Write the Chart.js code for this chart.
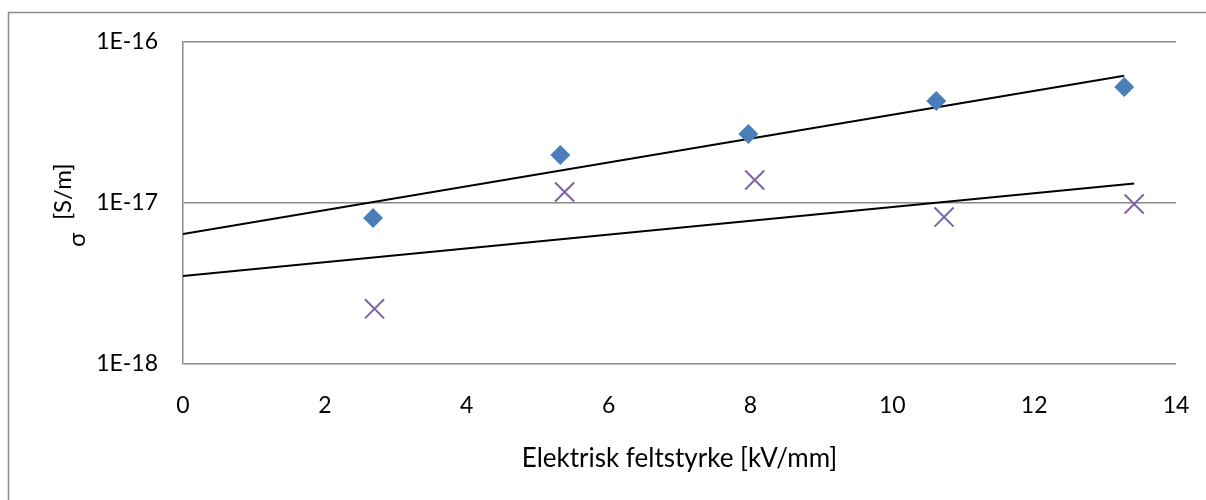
<!DOCTYPE html>
<html>
<head>
<meta charset="utf-8">
<script src="https://cdn.jsdelivr.net/npm/chart.js@4/dist/chart.umd.min.js"></script>
<style>
  html, body { margin: 0; padding: 0; background: #fff; }
  #wrap { position: relative; width: 1206px; height: 500px; }
</style>
</head>
<body>
<div id="wrap"><canvas id="c" width="1206" height="500"></canvas></div>
<script>
// Conductivity vs. electric field strength, two sample series
const fieldA = [2.68, 5.32, 7.97, 10.62, 13.27];
const sigmaA = [8.07e-18, 1.99e-17, 2.68e-17, 4.30e-17, 5.25e-17];
const fieldB = [2.70, 5.38, 8.06, 10.73, 13.41];
const sigmaB = [2.20e-18, 1.17e-17, 1.39e-17, 8.18e-18, 9.86e-18];

const xTickValues = [0, 2, 4, 6, 8, 10, 12, 14];
const yTickValues = [1e-18, 1e-17, 1e-16];
const yTickLabels = ['1E-18', '1E-17', '1E-16'];

const xTitle = 'Elektrisk feltstyrke [kV/mm]';
const yTitleSymbol = 'σ';
const yTitleUnit = '[S/m]';

const FONT = 'Lato';
const GRID = '#8a8a8a';

// Exponential trend line (least squares on log10 of the values), from x = 0 to the last point
function expTrend(xs, ys) {
  const ly = ys.map(v => Math.log10(v));
  const n = xs.length;
  const mx = xs.reduce((a, b) => a + b, 0) / n;
  const my = ly.reduce((a, b) => a + b, 0) / n;
  let sxy = 0, sxx = 0;
  for (let i = 0; i < n; i++) {
    sxy += (xs[i] - mx) * (ly[i] - my);
    sxx += (xs[i] - mx) * (xs[i] - mx);
  }
  const b = sxy / sxx, a = my - b * mx;
  const xEnd = xs[n - 1];
  return [{ x: 0, y: Math.pow(10, a) }, { x: xEnd, y: Math.pow(10, a + b * xEnd) }];
}

const pts = (xs, ys) => xs.map((x, i) => ({ x, y: ys[i] }));

// Outer frame and rotated y-axis title
const decor = {
  id: 'decor',
  beforeDraw(chart) {
    const ctx = chart.ctx;
    ctx.save();
    ctx.fillStyle = '#fff';
    ctx.fillRect(0, 0, chart.width, chart.height);
    ctx.strokeStyle = '#8c8c8c';
    ctx.lineWidth = 1.5;
    ctx.beginPath();
    ctx.moveTo(8.5, chart.height + 2);
    ctx.lineTo(8.5, 12.5);
    ctx.lineTo(chart.width + 2, 12.5);
    ctx.stroke();
    ctx.restore();
  },
  afterDraw(chart) {
    const ctx = chart.ctx;
    const area = chart.chartArea;
    const cy = (area.top + area.bottom) / 2 + 2;
    ctx.save();
    ctx.translate(71, cy);
    ctx.rotate(-Math.PI / 2);
    ctx.fillStyle = '#000';
    ctx.font = '24px ' + FONT;
    ctx.textBaseline = 'alphabetic';
    ctx.textAlign = 'left';
    ctx.fillText(yTitleUnit, -15, 0);
    ctx.fillText(yTitleSymbol, -42, 14);
    ctx.restore();
  }
};

new Chart(document.getElementById('c'), {
  data: {
    datasets: [
      {
        type: 'scatter',
        data: pts(fieldA, sigmaA),
        pointStyle: 'rectRot',
        pointRadius: 10,
        pointHoverRadius: 10,
        backgroundColor: '#4a7ebb',
        borderColor: '#4a7ebb',
        borderWidth: 0
      },
      {
        type: 'scatter',
        data: pts(fieldB, sigmaB),
        pointStyle: 'crossRot',
        pointRadius: 13.5,
        pointHoverRadius: 13.5,
        backgroundColor: '#7f63a6',
        borderColor: '#7f63a6',
        borderWidth: 2
      },
      {
        type: 'line',
        data: expTrend(fieldA, sigmaA),
        borderColor: '#000',
        borderWidth: 2,
        pointRadius: 0,
        fill: false
      },
      {
        type: 'line',
        data: expTrend(fieldB, sigmaB),
        borderColor: '#000',
        borderWidth: 2,
        pointRadius: 0,
        fill: false
      }
    ]
  },
  options: {
    responsive: false,
    devicePixelRatio: 1,
    animation: false,
    layout: { padding: { left: 0, top: 42, right: 30, bottom: 0 } },
    plugins: { legend: { display: false }, tooltip: { enabled: false } },
    scales: {
      x: {
        type: 'linear',
        min: 0,
        max: 14,
        afterBuildTicks(scale) { scale.ticks = xTickValues.map(v => ({ value: v })); },
        afterFit(scale) { scale.height = 136; scale.paddingLeft = 0; scale.paddingRight = 0; },
        grid: { display: false, drawTicks: false },
        border: { display: false },
        ticks: { padding: 28, color: '#000', font: { family: FONT, size: 23 } },
        title: {
          display: true,
          text: xTitle,
          color: '#000',
          font: { family: FONT, size: 26 },
          padding: { top: 0, bottom: 26 }
        }
      },
      y: {
        type: 'logarithmic',
        min: yTickValues[0],
        max: yTickValues[yTickValues.length - 1],
        afterBuildTicks(scale) { scale.ticks = yTickValues.map(v => ({ value: v })); },
        afterFit(scale) { scale.width = 183; scale.paddingTop = 0; scale.paddingBottom = 0; },
        grid: { color: GRID, lineWidth: 1.5, drawTicks: false },
        border: { display: true, color: GRID, width: 1.5 },
        ticks: {
          padding: 25,
          color: '#000',
          font: { family: FONT, size: 23 },
          callback(value) {
            const i = yTickValues.findIndex(v => Math.abs(Math.log10(v) - Math.log10(value)) < 1e-6);
            return i >= 0 ? yTickLabels[i] : '';
          }
        }
      }
    }
  },
  plugins: [decor]
});
</script>
</body>
</html>
